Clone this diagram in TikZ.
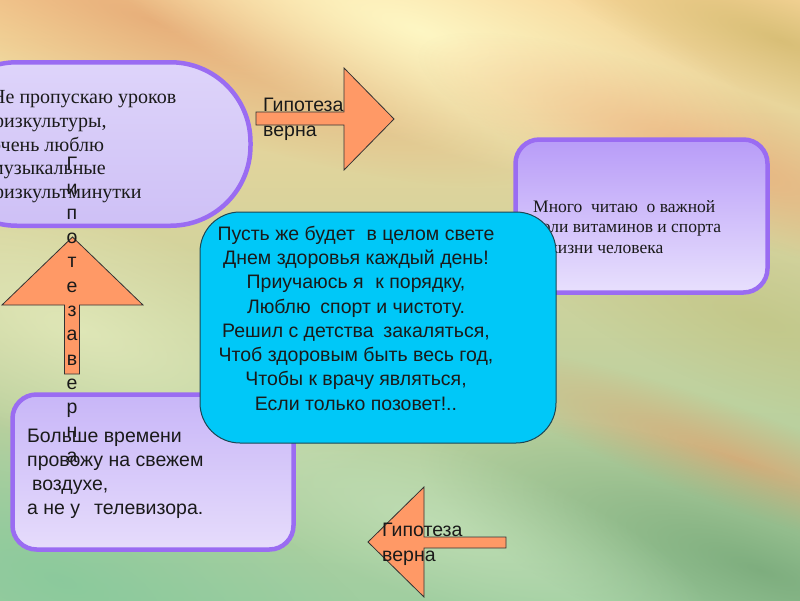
\documentclass[tikz,border=0pt]{standalone}
\usepackage{fontspec}
\setmainfont{Liberation Serif}
\newfontfamily\arialf{Liberation Sans}
\usetikzlibrary{fadings}
\definecolor{boxborder}{HTML}{9A6CF2}
\definecolor{arrowfill}{HTML}{FF9966}
\definecolor{cyanfill}{HTML}{00C8F8}
\definecolor{cyanedge}{HTML}{1C4654}
\definecolor{txt}{HTML}{1A1A1A}
\definecolor{bgtop}{RGB}{248,214,154}
\definecolor{bgmid}{RGB}{228,236,192}
\definecolor{bgbot}{RGB}{160,206,160}
\definecolor{bgA}{RGB}{226,160,110}
\definecolor{bgB}{RGB}{255,250,200}
\definecolor{bgC}{RGB}{200,176,96}
\definecolor{bgD}{RGB}{240,160,110}
\definecolor{bgE}{RGB}{190,190,120}
\definecolor{bgF}{RGB}{232,152,100}
\definecolor{bgG}{RGB}{110,160,112}
\definecolor{bgH}{RGB}{130,200,155}
\definecolor{bgI}{RGB}{238,244,200}
\definecolor{bgJ}{RGB}{200,228,190}
\definecolor{tlTop}{RGB}{222,212,250}
\definecolor{tlBot}{RGB}{206,192,246}
\definecolor{rTop}{RGB}{184,156,248}
\definecolor{rBot}{RGB}{232,224,253}
\definecolor{blTop}{RGB}{200,182,248}
\definecolor{blBot}{RGB}{230,220,251}
\tikzfading[name=blob, inner color=transparent!0, outer color=transparent!100]
\tikzset{
  pbox/.style={draw=boxborder, line width=4.5pt},
  arrowshape/.style={fill=arrowfill, draw=black!80, line width=0.8pt, line join=miter},
  serift/.style={inner sep=0pt, text=txt, align=left, anchor=north west},
  sanst/.style={inner sep=0pt, text=txt, font=\arialf},
}
\newcommand{\bgblob}[6]{%
  \begin{scope}[transform canvas={rotate around={-20:(#1,#2)}}]
    \fill[fill=#5, opacity=#6, path fading=blob] (#1,#2) ellipse [x radius=#3, y radius=#4];
  \end{scope}}
\begin{document}
\begin{tikzpicture}[x=1pt,y=-1pt]
\useasboundingbox (0,0) rectangle (800,600);
\begin{scope}
\clip (0,0) rectangle (800,600);
% background
\shade[top color=bgtop, middle color=bgmid, bottom color=bgbot] (0,0) rectangle (800,600);
\bgblob{150}{20}{420}{90}{bgA}{0.7}
\bgblob{420}{30}{380}{110}{bgB}{0.9}
\bgblob{780}{40}{260}{60}{bgC}{0.6}
\bgblob{720}{160}{320}{70}{bgD}{0.6}
\bgblob{760}{320}{260}{80}{bgE}{0.5}
\bgblob{740}{460}{300}{50}{bgF}{0.6}
\bgblob{760}{570}{360}{100}{bgG}{0.7}
\bgblob{60}{580}{360}{140}{bgH}{0.7}
\bgblob{80}{330}{320}{120}{bgI}{0.6}
\bgblob{430}{520}{300}{80}{bgJ}{0.6}

% top-left box
\node[pbox, minimum width=313.5pt, minimum height=163.5pt, rounded corners=80pt,
  top color=tlTop, bottom color=tlBot] (tlbox) at (93.75,144) {};
\node[serift, font=\fontsize{20}{23.75}\selectfont] (tltext) at (-9,90.3)
  {Не пропускаю уроков\\физкультуры,\\очень люблю\\музыкальные\\физкультминутки};

% right box
\node[pbox, minimum width=252pt, minimum height=153pt, rounded corners=24pt,
  top color=rTop, bottom color=rBot] (rbox) at (641.5,216) {};
\node[serift, font=\fontsize{17.5}{20.3}\selectfont] (rtext) at (533,200.3)
  {Много\hspace{0.5em}читаю\hspace{0.5em}о важной\\роли витаминов и спорта\\в жизни человека};

% bottom-left box
\node[pbox, minimum width=281pt, minimum height=155pt, rounded corners=24pt,
  top color=blTop, bottom color=blBot] (blbox) at (153,472) {};
\node[sanst, align=left, anchor=north west, font=\arialf\fontsize{19.5}{24}\selectfont] (bltext) at (27,429)
  {Больше времени\\провожу на свежем\\\hspace{5pt}воздухе,\\а не у\hspace{14pt}телевизора.};

% central cyan box
\node[draw=cyanedge, line width=1pt, fill=cyanfill, minimum width=356pt, minimum height=231pt, rounded corners=40pt] (cbox) at (378,327.5) {};
\node[sanst, align=center, anchor=north, font=\arialf\fontsize{19.5}{24.3}\selectfont] (ctext) at (356,225.6)
  {Пусть же будет\hspace{0.6em}в целом свете\\Днем здоровья каждый день!\\Приучаюсь я\hspace{0.6em}к порядку,\\Люблю\hspace{0.5em}спорт и чистоту.\\Решил с детства\hspace{0.5em}закаляться,\\Чтоб здоровым быть весь год,\\Чтобы к врачу являться,\\Если только позовет!..};

% arrows
\draw[arrowshape] (256,112) -- (344,112) -- (344,68) -- (394,119) -- (344,170) -- (344,125) -- (256,125) -- cycle;
\draw[arrowshape] (64.5,374) -- (64.5,305) -- (2,305) -- (72.5,237) -- (143,305) -- (79.5,305) -- (79.5,374) -- cycle;
\draw[arrowshape] (506,537) -- (424,537) -- (424,487) -- (368,542) -- (424,597) -- (424,548) -- (506,548) -- cycle;

\node[sanst, align=left, anchor=north west, font=\arialf\fontsize{19.5}{24.5}\selectfont] (hyp1) at (263,98) {Гипотеза\\верна};
\node[sanst, align=left, anchor=north west, font=\arialf\fontsize{19.5}{24.5}\selectfont] (hyp2) at (382,523) {Гипотеза\\верна};
\node[sanst, align=center, anchor=north, font=\arialf\fontsize{19.5}{24.3}\selectfont] (hyp3) at (72,157)
  {Г\\и\\п\\о\\т\\е\\з\\а\\в\\е\\р\\н\\а};
\end{scope}
\end{tikzpicture}
\end{document}
